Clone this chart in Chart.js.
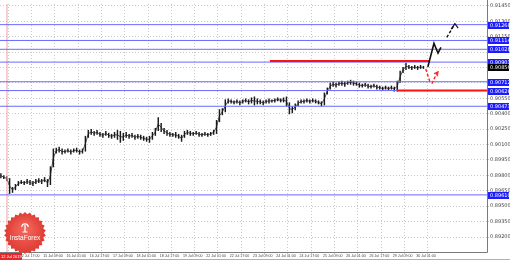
<!DOCTYPE html>
<html>
<head>
<meta charset="utf-8">
<script src="https://cdn.jsdelivr.net/npm/chart.js@4.4.1/dist/chart.umd.min.js"></script>
<style>
  html, body { margin: 0; padding: 0; background: #fff; }
</style>
</head>
<body>
<canvas id="eurgbp" width="510" height="260"></canvas>
<script>
// EURGBP, hourly bars grouped by two, 12 Jul - 30 Jul 2019
const timeLabels = ["12 Jul 17:00", "15 Jul 09:00", "16 Jul 01:00", "16 Jul 17:00", "17 Jul 09:00",
    "18 Jul 01:00", "18 Jul 17:00", "19 Jul 09:00", "22 Jul 01:00", "22 Jul 17:00", "23 Jul 09:00",
    "24 Jul 01:00", "24 Jul 17:00", "25 Jul 09:00", "26 Jul 01:00", "26 Jul 17:00", "29 Jul 09:00",
    "30 Jul 01:00"];
const firstTickBar = 6.5;   // bar index of the first time label
const barsPerLabel = 8;

const priceTicks = [0.9145, 0.9130, 0.9115, 0.9100, 0.9085, 0.9070, 0.9055, 0.9040,
    0.9025, 0.9010, 0.8995, 0.8980, 0.8965, 0.8950, 0.8935, 0.8920];

const barHighs = [
    0.89821, 0.89802, 0.89793, 0.89773, 0.89687, 0.89716, 0.89745, 0.89754, 0.89745, 0.89764,
    0.89754, 0.89745, 0.89764, 0.89773, 0.89764, 0.89783, 0.89764, 0.89888, 0.90061, 0.90070,
    0.90080, 0.90061, 0.90051, 0.90061, 0.90051, 0.90061, 0.90070, 0.90051, 0.90061, 0.90185,
    0.90243, 0.90252, 0.90233, 0.90243, 0.90223, 0.90214, 0.90233, 0.90214, 0.90204, 0.90223,
    0.90243, 0.90233, 0.90214, 0.90223, 0.90204, 0.90214, 0.90195, 0.90204, 0.90195, 0.90185,
    0.90176, 0.90185, 0.90223, 0.90262, 0.90367, 0.90310, 0.90262, 0.90243, 0.90223, 0.90214,
    0.90223, 0.90204, 0.90195, 0.90233, 0.90243, 0.90233, 0.90223, 0.90233, 0.90223, 0.90214,
    0.90223, 0.90214, 0.90223, 0.90243, 0.90339, 0.90444, 0.90454, 0.90540, 0.90549, 0.90540,
    0.90530, 0.90540, 0.90530, 0.90540, 0.90549, 0.90540, 0.90559, 0.90568, 0.90549, 0.90540,
    0.90530, 0.90540, 0.90549, 0.90540, 0.90549, 0.90559, 0.90549, 0.90559, 0.90568, 0.90511,
    0.90473, 0.90501, 0.90530, 0.90540, 0.90540, 0.90549, 0.90540, 0.90549, 0.90540, 0.90530,
    0.90521, 0.90607, 0.90655, 0.90703, 0.90712, 0.90703, 0.90712, 0.90722, 0.90712, 0.90722,
    0.90731, 0.90722, 0.90712, 0.90703, 0.90693, 0.90703, 0.90693, 0.90683, 0.90693, 0.90683,
    0.90674, 0.90664, 0.90674, 0.90664, 0.90674, 0.90664, 0.90722, 0.90818, 0.90856, 0.90894,
    0.90875, 0.90866, 0.90875, 0.90866, 0.90875, 0.90866];
const barLows = [
    0.89773, 0.89764, 0.89745, 0.89620, 0.89630, 0.89658, 0.89697, 0.89716, 0.89706, 0.89716,
    0.89706, 0.89697, 0.89716, 0.89725, 0.89716, 0.89735, 0.89687, 0.89706, 0.89879, 0.90013,
    0.90023, 0.90003, 0.90013, 0.90023, 0.90003, 0.90023, 0.90023, 0.90003, 0.90013, 0.90032,
    0.90166, 0.90195, 0.90185, 0.90195, 0.90176, 0.90166, 0.90185, 0.90166, 0.90157, 0.90166,
    0.90147, 0.90118, 0.90137, 0.90166, 0.90157, 0.90166, 0.90147, 0.90157, 0.90147, 0.90137,
    0.90128, 0.90118, 0.90147, 0.90185, 0.90233, 0.90223, 0.90204, 0.90185, 0.90176, 0.90176,
    0.90166, 0.90157, 0.90128, 0.90166, 0.90195, 0.90185, 0.90185, 0.90195, 0.90176, 0.90176,
    0.90185, 0.90176, 0.90185, 0.90195, 0.90204, 0.90319, 0.90386, 0.90415, 0.90501, 0.90501,
    0.90492, 0.90501, 0.90482, 0.90501, 0.90511, 0.90492, 0.90501, 0.90482, 0.90492, 0.90492,
    0.90482, 0.90501, 0.90501, 0.90511, 0.90511, 0.90521, 0.90511, 0.90511, 0.90473, 0.90396,
    0.90406, 0.90434, 0.90473, 0.90501, 0.90501, 0.90511, 0.90501, 0.90511, 0.90501, 0.90492,
    0.90473, 0.90482, 0.90588, 0.90636, 0.90664, 0.90655, 0.90674, 0.90674, 0.90664, 0.90683,
    0.90683, 0.90674, 0.90674, 0.90655, 0.90655, 0.90664, 0.90645, 0.90645, 0.90655, 0.90636,
    0.90636, 0.90626, 0.90636, 0.90626, 0.90636, 0.90616, 0.90616, 0.90703, 0.90798, 0.90827,
    0.90837, 0.90827, 0.90837, 0.90827, 0.90837, 0.90837];

const currentPrice = 0.90856;

// horizontal levels
const blueLevels = [0.91268, 0.91114, 0.91028, 0.90903, 0.90712, 0.90626, 0.90473, 0.89610];
const redLevels = [0.90913, 0.90626];
const redFrom = [92.3, 135.9];
const redTo = [147.2, 166.8];

// vertical time marker
const markerBar = 2.1;
const markerText = "12 Jul 2019";

// forecast arrows, [bar index, price]
const bullPath = [[146.5, 0.90856], [148.6, 0.91086], [150.0, 0.90990], [151.0, 0.91047]];
const bullDash = [[153.0, 0.91143], [155.8, 0.91277]];
const bullHead = [[154.5, 0.91225], [155.8, 0.91277], [156.9, 0.91235]];
const bearPath1 = [[145.8, 0.90836], [147.2, 0.90712]];
const bearPath2 = [[147.9, 0.90693], [149.6, 0.90798]];
const bearHead = [[148.6, 0.90789], [150.0, 0.90808], [149.7, 0.90765]];

const xMin = -0.3, xMax = 166.8;
const yMin = 0.89054, yMax = 0.91469;

const toXY = pts => pts.map(p => ({ x: p[0], y: p[1] }));

function lineSet(points, color, width, dash) {
    return {
        type: 'line',
        data: toXY(points),
        borderColor: color,
        borderWidth: width,
        borderDash: dash || [],
        pointRadius: 0,
        fill: false,
        tension: 0,
        order: 0
    };
}

const datasets = [];

// forecast drawings on top
datasets.push(lineSet(bullPath, '#111', 1.6));
datasets.push(lineSet(bullDash, '#111', 1.4, [3, 2]));
datasets.push(lineSet(bullHead, '#111', 1.2));
datasets.push(lineSet(bearPath1, '#ff2020', 1.4, [3, 2]));
datasets.push(lineSet(bearPath2, '#ff2020', 1.4, [3, 2]));
datasets.push(lineSet(bearHead, '#ff2020', 1.2));

// levels
redLevels.forEach((p, k) => {
    const ds = lineSet([[redFrom[k], p], [redTo[k], p]], '#ff1010', 2);
    ds.order = 1;
    datasets.push(ds);
});
blueLevels.forEach(p => {
    const ds = lineSet([[xMin, p], [xMax, p]], '#6a6aff', 1);
    ds.order = 2;
    datasets.push(ds);
});
const marker = lineSet([[markerBar, yMin], [markerBar, yMax]], '#f4a0a0', 1);
marker.order = 3;
datasets.push(marker);

// price bars: high-low ranges plus a thin trace through their middles
datasets.push({
    type: 'bar',
    data: barLows.map((lo, i) => ({ x: i, y: [lo, barHighs[i]] })),
    backgroundColor: '#1a1a1a',
    barPercentage: 0.5,
    categoryPercentage: 1,
    order: 4
});
const midTrace = lineSet(barLows.map((lo, i) => [i, (lo + barHighs[i]) / 2]), '#555', 1);
midTrace.order = 5;
datasets.push(midTrace);

// badge with the broker logo
function drawBadge(ctx, cx, cy, r) {
    ctx.save();
    ctx.beginPath();
    const teeth = 26;
    for (let k = 0; k <= teeth * 2; k++) {
        const a = k * Math.PI / teeth;
        const rr = k % 2 ? r : r - 2.2;
        ctx.lineTo(cx + rr * Math.cos(a), cy + rr * Math.sin(a));
    }
    ctx.closePath();
    const g = ctx.createRadialGradient(cx, cy - 5, 2, cx, cy, r);
    g.addColorStop(0, '#f4675c');
    g.addColorStop(1, '#dd3a33');
    ctx.fillStyle = g;
    ctx.fill();

    // small white emblem
    ctx.strokeStyle = '#fff';
    ctx.fillStyle = '#fff';
    ctx.lineWidth = 1.2;
    ctx.beginPath();
    ctx.arc(cx, cy - 6, 3.2, Math.PI, 0);
    ctx.stroke();
    ctx.beginPath();
    ctx.moveTo(cx, cy - 8);
    ctx.lineTo(cx, cy - 1);
    ctx.moveTo(cx - 2.5, cy - 1);
    ctx.lineTo(cx + 2.5, cy - 1);
    ctx.stroke();

    ctx.font = '6.5px "Liberation Sans", sans-serif';
    ctx.textAlign = 'center';
    ctx.textBaseline = 'middle';
    ctx.fillText('InstaForex', cx, cy + 5);
    ctx.restore();
}

const terminalDecor = {
    id: 'terminalDecor',
    afterDraw(chart) {
        const { ctx, chartArea, scales: { x, y } } = chart;
        ctx.save();

        // frame
        ctx.strokeStyle = '#7a7a7a';
        ctx.lineWidth = 1;
        ctx.beginPath();
        ctx.moveTo(Math.round(chartArea.right) + 0.5, 0);
        ctx.lineTo(Math.round(chartArea.right) + 0.5, Math.round(chartArea.bottom) + 0.5);
        ctx.moveTo(0, Math.round(chartArea.bottom) + 0.5);
        ctx.lineTo(Math.round(chartArea.right) + 0.5, Math.round(chartArea.bottom) + 0.5);
        ctx.stroke();
        ctx.strokeStyle = '#b0b0b0';
        ctx.beginPath();
        ctx.moveTo(0, 259.5);
        ctx.lineTo(510, 259.5);
        ctx.stroke();

        // price tags on the axis
        ctx.font = '5px "DejaVu Sans", sans-serif';
        ctx.textBaseline = 'middle';
        ctx.textAlign = 'left';
        const tag = (price, bg) => {
            const py = Math.round(y.getPixelForValue(price));
            ctx.fillStyle = bg;
            ctx.fillRect(chartArea.right + 1, py - 3, 21, 7);
            ctx.fillStyle = '#fff';
            ctx.fillText(price.toFixed(5), chartArea.right + 3, py + 0.5);
        };
        blueLevels.forEach(p => tag(p, '#1c1cff'));
        tag(currentPrice, '#000');

        drawBadge(ctx, 25, 233, 21);

        // date tag of the vertical marker
        const mx = x.getPixelForValue(markerBar);
        ctx.fillStyle = '#e8262a';
        ctx.fillRect(0, chartArea.bottom + 1, mx + 15, 7);
        ctx.fillStyle = '#fff';
        ctx.font = '4px "Liberation Sans", sans-serif';
        ctx.fillText(markerText, 1, chartArea.bottom + 4.5);
        ctx.restore();
    }
};

new Chart(document.getElementById('eurgbp'), {
    type: 'bar',
    data: { datasets: datasets },
    plugins: [terminalDecor],
    options: {
        responsive: false,
        animation: false,
        devicePixelRatio: 1,
        layout: { padding: 0 },
        plugins: {
            legend: { display: false },
            tooltip: { enabled: false }
        },
        scales: {
            x: {
                type: 'linear',
                min: xMin,
                max: xMax,
                offset: false,
                afterBuildTicks: scale => {
                    scale.ticks = timeLabels.map((t, k) => ({ value: firstTickBar + barsPerLabel * k }));
                },
                afterFit: scale => { scale.height = 8; },
                ticks: {
                    autoSkip: false,
                    maxRotation: 0,
                    align: 'start',
                    padding: 0,
                    color: '#444',
                    font: { size: 3.6, family: '"Liberation Sans", sans-serif' },
                    callback: (v, i) => timeLabels[i]
                },
                grid: { color: '#c9c9c9', tickLength: 2 },
                border: { display: false, dash: [1, 2] }
            },
            y: {
                type: 'linear',
                position: 'right',
                min: yMin,
                max: yMax,
                afterBuildTicks: scale => {
                    scale.ticks = priceTicks.map(v => ({ value: v }));
                },
                afterFit: scale => { scale.width = 23; },
                ticks: {
                    padding: 1,
                    color: '#444',
                    font: { size: 5, family: '"DejaVu Sans", sans-serif' },
                    callback: v => v.toFixed(5)
                },
                grid: { color: '#c9c9c9', tickLength: 2 },
                border: { display: false, dash: [1, 2] }
            }
        }
    }
});
</script>
</body>
</html>
